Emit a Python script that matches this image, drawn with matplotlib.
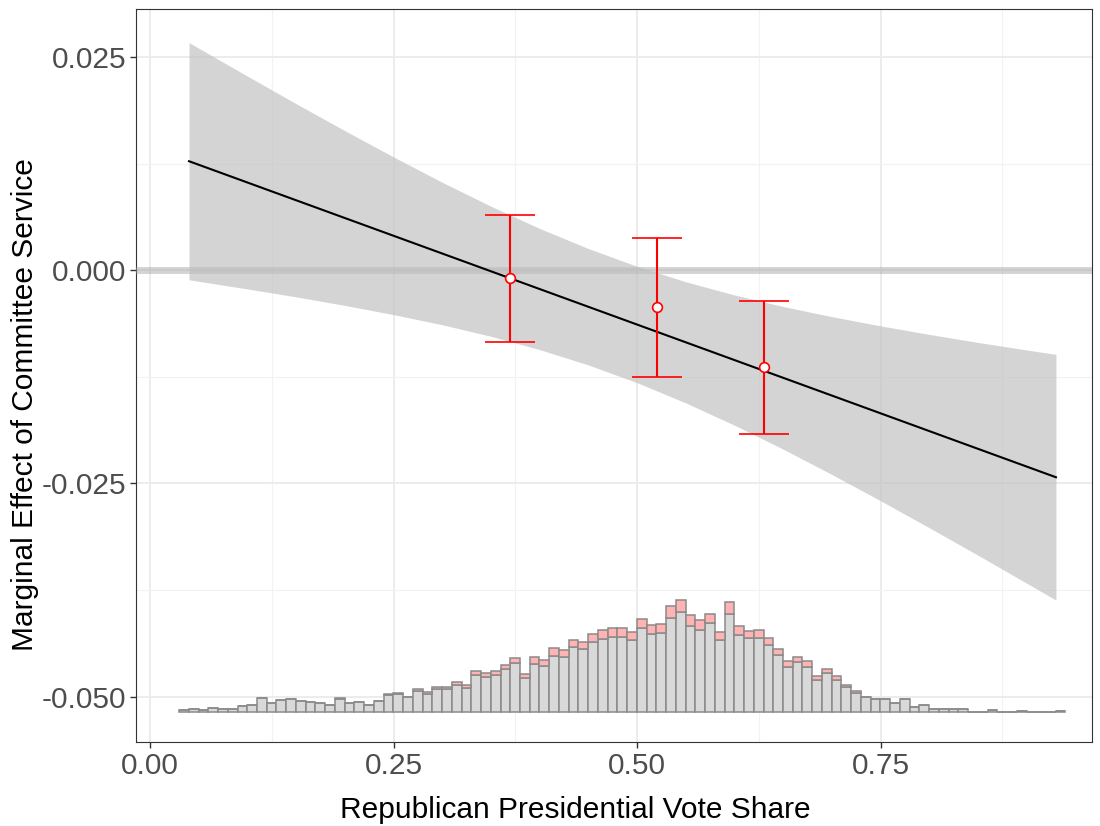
import numpy as np
import matplotlib
matplotlib.use('Agg')
import matplotlib.pyplot as plt

plt.rcParams['font.family'] = ['Liberation Sans', 'DejaVu Sans']

# marginal effect line (linear) and its confidence band, read at a few x values
band_x = [0.04, 0.10, 0.15, 0.20, 0.25, 0.30, 0.35, 0.40, 0.45, 0.50,
          0.55, 0.60, 0.65, 0.70, 0.75, 0.80, 0.85, 0.90, 0.93]
band_upper = [0.02667, 0.02274, 0.01951, 0.01635, 0.01327, 0.01030, 0.00749, 0.00489, 0.00253, 0.00045,
              -0.00136, -0.00291, -0.00426, -0.00545, -0.00653, -0.00753, -0.00847, -0.00935, -0.00987]
band_lower = [-0.00113, -0.00220, -0.00313, -0.00413, -0.00521, -0.00640, -0.00775, -0.00931, -0.01111, -0.01319,
              -0.01556, -0.01817, -0.02098, -0.02395, -0.02703, -0.03019, -0.03341, -0.03669, -0.03867]
line_x = [0.04, 0.93]
line_y = [0.01277, -0.02427]

# binned estimates (red)
bin_x = [0.37, 0.52, 0.63]
bin_est = [-0.00094, -0.00434, -0.01137]
bin_upper = [0.00645, 0.00375, -0.00363]
bin_lower = [-0.00844, -0.01254, -0.01922]

# histogram of the moderator: counts per bin (control grey, treated pink on top)
hist_start = 0.0298
hist_width = 0.01
total_counts = [3, 4, 3, 6, 4, 5, 9, 11, 21, 13, 18, 19, 16, 15, 14, 11, 21, 14, 15, 11,
                17, 27, 29, 23, 34, 30, 38, 38, 45, 40, 62, 59, 62, 71, 81, 57, 82, 78, 96, 93,
                109, 105, 117, 124, 126, 126, 120, 140, 131, 132, 159, 168, 146, 139, 148, 121, 165, 130, 122, 124,
                111, 95, 76, 83, 76, 54, 65, 54, 41, 32, 23, 20, 20, 14, 19, 8, 10, 4, 5, 4,
                4, 0, 0, 3, 0, 0, 2, 0, 0, 0, 2]
treated_counts = [0, 0, 0, 0, 0, 0, 0, 0, 0, 0, 0, 0, 0, 0, 0, 0, 1, 0, 0, 0,
                  0, 1, 2, 1, 3, 3, 3, 3, 4, 4, 6, 6, 6, 7, 7, 6, 10, 9, 12, 10,
                  11, 11, 12, 14, 13, 13, 12, 14, 13, 13, 18, 17, 17, 15, 14, 12, 18, 14, 11, 12,
                  11, 10, 8, 8, 9, 6, 7, 6, 4, 4, 1, 0, 0, 0, 0, 0, 0, 0, 0, 0,
                  0, 0, 0, 0, 0, 0, 0, 0, 0, 0, 0]

x_ticks = [0.00, 0.25, 0.50, 0.75]
x_ticklabels = ['0.00', '0.25', '0.50', '0.75']
y_ticks = [-0.050, -0.025, 0.000, 0.025]
y_ticklabels = ['-0.050', '-0.025', '0.000', '0.025']

fig = plt.figure(figsize=(11, 8.26), dpi=100)
ax = fig.add_axes([0.1234, 0.1017, 0.8693, 0.8873])
ax.set_xlim(-0.0147, 0.967)
ax.set_ylim(-0.0553, 0.0306)

# grid like theme_bw
ax.set_xticks(x_ticks)
ax.set_xticklabels(x_ticklabels)
ax.set_yticks(y_ticks)
ax.set_yticklabels(y_ticklabels)
ax.set_xticks([0.125, 0.375, 0.625, 0.875], minor=True)
ax.set_yticks([-0.0375, -0.0125, 0.0125], minor=True)
ax.grid(which='major', color='#EBEBEB', lw=1.3, zorder=0)
ax.grid(which='minor', color='#F2F2F2', lw=0.8, zorder=0)
ax.set_axisbelow(True)
ax.tick_params(which='minor', length=0)
ax.tick_params(which='major', length=4, width=1, color='#333333', labelsize=21.5, labelcolor='#4D4D4D', pad=3)
for s in ax.spines.values():
    s.set_color('#333333')
    s.set_linewidth(0.8)

# histogram
unit = 0.0000781
base = -0.0518
lefts = hist_start + hist_width * np.arange(len(total_counts))
control = np.array(total_counts) - np.array(treated_counts)
treated = np.array(treated_counts)
ax.bar(lefts, control * unit, width=hist_width, bottom=base, align='edge',
       color='#D9D9D9', edgecolor='#8A8A8A', linewidth=1.1, zorder=2)
ax.bar(lefts, treated * unit, width=hist_width, bottom=base + control * unit, align='edge',
       color='#FFB3B3', edgecolor='#8A8A8A', linewidth=1.1, zorder=2)

# zero line
ax.axhline(0, color='#A0A0A0', lw=5, alpha=0.45, zorder=3)

# confidence band + line
ax.fill_between(band_x, band_lower, band_upper, color='#BEBEBE', alpha=0.65, lw=0, zorder=3)
ax.plot(line_x, line_y, color='black', lw=1.5, zorder=4)

# binned estimates
ax.errorbar(bin_x, bin_est,
            yerr=[np.array(bin_est) - np.array(bin_lower), np.array(bin_upper) - np.array(bin_est)],
            fmt='o', color='red', ecolor='red', elinewidth=1.5, capsize=18, capthick=1.5,
            markerfacecolor='white', markeredgecolor='red', markersize=7, markeredgewidth=1.2, zorder=5)

ax.set_xlabel('Republican Presidential Vote Share', fontsize=21.5)
ax.set_ylabel('Marginal Effect of Committee Service', fontsize=21.5)
# label centres as in the reference (pixels -> axes fraction)
ax.xaxis.set_label_coords((575 - 135.7) / (1092 - 135.7), 1 - (810 - 9) / (742 - 9))
ax.yaxis.set_label_coords((25 - 135.7) / (1092 - 135.7), 1 - (405 - 9) / (742 - 9))
ax.xaxis.label.set_va('center')
ax.yaxis.label.set_va('center')

plt.savefig('out.png', dpi=100)
